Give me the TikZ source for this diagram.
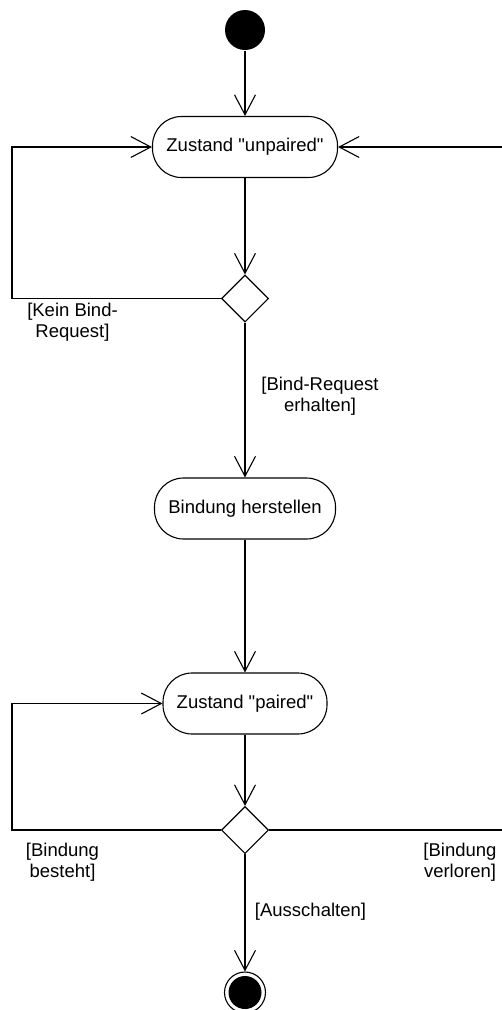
\documentclass[tikz,border=0pt]{standalone}
\usepackage{fontspec}
\setmainfont{Liberation Sans}[Ligatures=TeXOff]
\usetikzlibrary{arrows.meta,shapes.geometric}
\begin{document}
\begin{tikzpicture}[x=1pt,y=-1pt,line width=1.1pt,
  >={Straight Barb[length=20pt,width=21pt,line width=1.1pt]},
  state/.style={draw,rectangle,rounded corners=29pt,minimum height=61pt,inner sep=0pt,font=\fontsize{18.5}{21}\selectfont},
  decision/.style={draw,diamond,minimum width=47pt,minimum height=47pt,inner sep=0pt},
  guard/.style={align=center,inner sep=0pt,font=\fontsize{18.5}{21}\selectfont}]
\useasboundingbox (0,0) rectangle (501,1010);

% nodes
\node[circle,fill=black,minimum size=40pt,inner sep=0pt] (start) at (245,30) {};
\node[state,minimum width=185pt] (unpaired) at (245,147) {Zustand "unpaired"};
\node[decision] (d1) at (245,298.5) {};
\node[state,minimum width=181pt] (bind) at (245,508.5) {Bindung herstellen};
\node[state,minimum width=164pt] (paired) at (245,703.5) {Zustand "paired"};
\node[decision] (d2) at (245,830) {};
\node[circle,draw,minimum size=41pt,inner sep=0pt] (end) at (245,992.5) {};
\node[circle,fill=black,minimum size=33pt,inner sep=0pt] (endfill) at (end.center) {};

% loop corners
\coordinate (l1) at (12,298.5);
\coordinate (l2) at (12,830);
\coordinate (r2) at (504,830);

% connectors
\draw[->] (start) -- (unpaired);
\draw[->] (unpaired) -- (d1);
\draw[->] (d1.west) -- (l1) |- (unpaired.west);
\draw[->] (d1) -- (bind);
\draw[->] (bind) -- (paired);
\draw[->] (paired) -- (d2);
\draw[->] (d2.west) -- (l2) |- (paired.west);
\draw[->] (d2.east) -- (r2) |- (unpaired.east);
\draw[->] (d2) -- (end);

% guards
\node[guard] (g1) at (72.5,322.5) {[Kein Bind-\\Request]};
\node[guard] (g2) at (320,396.5) {[Bind-Request\\erhalten]};
\node[guard] (g3) at (62.5,862.5) {[Bindung\\besteht]};
\node[guard] (g4) at (460,862.5) {[Bindung\\verloren]};
\node[guard] (g5) at (310.5,912) {[Ausschalten]};
\end{tikzpicture}
\end{document}
